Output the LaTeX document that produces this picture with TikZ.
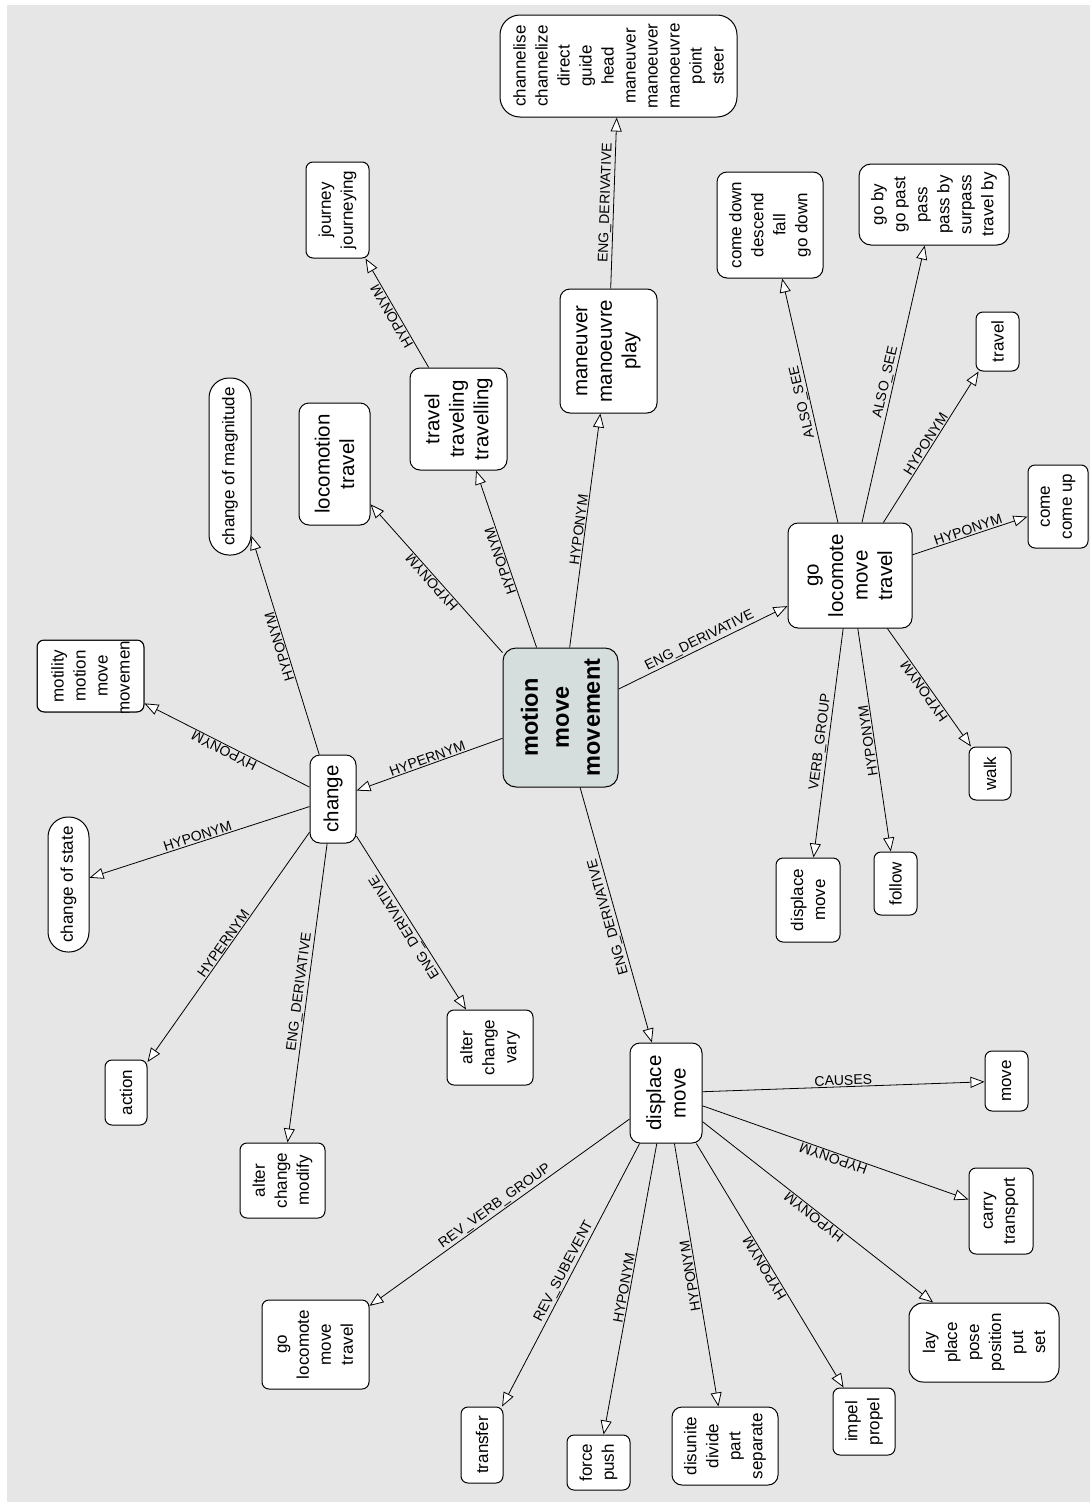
\documentclass[tikz,border=0pt]{standalone}
\usepackage{fontspec}
\setmainfont{Liberation Sans}
\usetikzlibrary{arrows.meta}
\definecolor{canvas}{HTML}{E6E6E6}
\definecolor{rootfill}{HTML}{D6DDDD}
\tikzset{
  word/.style={draw, line width=1pt, fill=white, rounded corners=7pt, rotate=90, align=center, inner sep=1pt, font=\fontsize{17}{22}\selectfont},
  hub/.style={word, rounded corners=10pt, font=\fontsize{20.5}{24.5}\selectfont},
  root/.style={hub, rounded corners=13pt, fill=rootfill, font=\bfseries\fontsize{23.5}{31}\selectfont},
  pill/.style={word, rounded corners=20pt},
  dims/.style 2 args={minimum height=#1pt, minimum width=#2pt},
  rel/.style={line width=0.8pt, -{Triangle[open, fill=white, length=14pt, width=11pt]}},
  relr/.style={line width=0.8pt, {Triangle[open, fill=white, length=14pt, width=11pt]}-},
  lab/.style={sloped, allow upside down, above, inner sep=1pt, font=\fontsize{14}{14}\selectfont}
}
\begin{document}
\begin{tikzpicture}[x=1pt, y=-1pt]
\useasboundingbox (0,0) rectangle (1090,1502);
\fill[white] (0,0) rectangle (1090,1502);
\fill[canvas] (7,5) rectangle (1090,1502);

% centre and first ring
\node[root, dims={115}{139}] (motion) at (560.5,717.5) {motion\\move\\movement};
\node[hub, dims={46}{88}] (change) at (333,799) {change};
\node[hub, dims={71}{122}] (loco) at (334.5,464) {locomotion\\travel};
\node[hub, dims={97}{102}] (trav) at (458.5,419) {travel\\traveling\\travelling};
\node[hub, dims={97}{124}] (man) at (608.5,351) {maneuver\\manoeuvre\\play};
\node[hub, dims={124}{105}] (go) at (850,575.5) {go\\locomote\\move\\travel};
\node[hub, dims={72}{100}] (disp) at (666,1093) {displace\\move};

% outer words
\node[word, dims={237}{102}, rounded corners=20pt] (cha) at (618.5,66) {channelise\\channelize\\direct\\guide\\head\\maneuver\\manoeuver\\manoeuvre\\point\\steer};
\node[word, dims={63}{96}] (jour) at (337.5,210) {journey\\journeying};
\node[word, dims={106}{106}, rounded corners=10pt] (down) at (770,225) {come down\\descend\\fall\\go down};
\node[word, dims={150}{81}, rounded corners=12pt] (goby) at (934,204.5) {go by\\go past\\pass\\pass by\\surpass\\travel by};
\node[word, dims={43}{59}] (trv) at (997.5,341.5) {travel};
\node[word, dims={60}{83}] (comeup) at (1058,506.5) {come\\come up};
\node[pill, dims={42}{177}] (mag) at (230,466.5) {change of magnitude};
\node[pill, dims={41}{135}] (state) at (68.5,884.5) {change of state};
\begin{scope}
  \clip[rounded corners=7pt] (37,640) rectangle (144,712);
  \node[word, dims={107}{72}] (motil) at (90.5,676) {motility\\motion\\move\\\makebox[60pt]{movement}};
\end{scope}
\draw[line width=1pt, rounded corners=7pt] (37,640) rectangle (144,712);
\node[word, dims={42}{53}] (walk) at (990,773.5) {walk};
\node[word, dims={43}{63}] (follow) at (895.5,883.5) {follow};
\node[word, dims={64}{84}] (dispup) at (808,900) {displace\\move};
\node[word, dims={86}{75}] (vary) at (490,1047.5) {alter\\change\\vary};
\node[word, dims={42}{65}] (action) at (126,1092.5) {action};
\node[word, dims={85}{75}] (modify) at (282.5,1180.5) {alter\\change\\modify};
\node[word, dims={43}{60}] (mv) at (1006.5,1081) {move};
\node[word, dims={64}{86}] (carry) at (1001,1211) {carry\\transport};
\node[word, dims={107}{89}] (golow) at (315.5,1344.5) {go\\locomote\\move\\travel};
\node[word, dims={150}{79}, rounded corners=14pt] (lay) at (984,1342.5) {lay\\place\\pose\\position\\put\\set};
\node[word, dims={42}{76}] (transfer) at (482,1445) {transfer};
\node[word, dims={63}{55}] (force) at (598.5,1462.5) {force\\push};
\node[word, dims={106}{78}, rounded corners=10pt] (disu) at (725,1446) {disunite\\divide\\part\\separate};
\node[word, dims={62}{67}] (impel) at (864,1421.5) {impel\\propel};

% relations (always drawn upwards, so labels read upwards)
\draw[relr] (change) -- node[lab] {HYPERNYM} (motion);
\draw[rel] (motion) -- node[lab] {HYPONYM} (loco);
\draw[rel] (motion) -- node[lab] {HYPONYM} (trav);
\draw[rel] (motion) -- node[lab] {HYPONYM} (man);
\draw[rel] (motion) -- node[lab] {ENG\_DERIVATIVE} (go);
\draw[relr] (disp) -- node[lab] {ENG\_DERIVATIVE} (motion);
\draw[rel] (change) -- node[lab] {HYPONYM} (mag);
\draw[rel] (change) -- node[lab] {HYPONYM} (motil);
\draw[relr] (state) -- node[lab] {HYPONYM} (change);
\draw[relr] (action) -- node[lab] {HYPERNYM} (change);
\draw[relr] (modify) -- node[lab] {ENG\_DERIVATIVE} (change);
\draw[relr] (vary) -- node[lab] {ENG\_DERIVATIVE} (change);
\draw[rel] (go) -- node[lab] {ALSO\_SEE} (down);
\draw[rel] (go) -- node[lab] {ALSO\_SEE} (goby);
\draw[rel] (go) -- node[lab] {HYPONYM} (trv);
\draw[rel] (go) -- node[lab] {HYPONYM} (comeup);
\draw[relr] (walk) -- node[lab] {HYPONYM} (go);
\draw[relr] (follow) -- node[lab] {HYPONYM} (go);
\draw[relr] (dispup) -- node[lab] {VERB\_GROUP} (go);
\draw[rel] (trav) -- node[lab] {HYPONYM} (jour);
\draw[rel] (man) -- node[lab] {ENG\_DERIVATIVE} (cha);
\draw[rel] (disp) -- node[lab] {CAUSES} (mv);
\draw[relr] (carry) -- node[lab] {HYPONYM} (disp);
\draw[relr] (lay) -- node[lab] {HYPONYM} (disp);
\draw[relr] (impel) -- node[lab] {HYPONYM} (disp);
\draw[relr] (disu) -- node[lab] {HYPONYM} (disp);
\draw[relr] (force) -- node[lab] {HYPONYM} (disp);
\draw[relr] (transfer) -- node[lab] {REV\_SUBEVENT} (disp);
\draw[relr] (golow) -- node[lab] {REV\_VERB\_GROUP} (disp);
\end{tikzpicture}
\end{document}
